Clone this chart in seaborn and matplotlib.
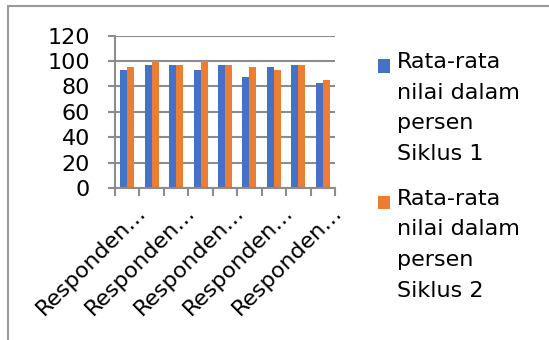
import matplotlib
matplotlib.use("Agg")
import matplotlib.pyplot as plt
import matplotlib.transforms as mtransforms
from matplotlib.lines import Line2D
from matplotlib.ticker import FixedLocator
import pandas as pd
import seaborn as sns

# Average scores per respondent (percent)
respondents = [f"Responden {i}" for i in range(1, 10)]
siklus_1 = [93, 97, 97, 93, 97, 87, 95, 97, 83]
siklus_2 = [95, 100, 97, 100, 97, 95, 93, 97, 85]
series_names = [
    "Rata-rata\nnilai dalam\npersen\nSiklus 1",
    "Rata-rata\nnilai dalam\npersen\nSiklus 2",
]
series_colors = ["#4472C4", "#ED7D31"]
y_ticks = [0, 20, 40, 60, 80, 100, 120]
x_label_positions = [0, 2, 4, 6, 8]
x_tick_labels = ["Responden…"] * 5

df = pd.DataFrame({
    "Responden": respondents * 2,
    "Nilai": siklus_1 + siklus_2,
    "Seri": [series_names[0]] * len(respondents) + [series_names[1]] * len(respondents),
})

sns.set_theme(style="white")
plt.rcParams["font.family"] = ["DejaVu Sans"]
plt.rcParams["text.color"] = "black"

W, H = 549, 340
GRAY = "#8c8c8c"
fig = plt.figure(figsize=(W / 100, H / 100), dpi=100)
ax = fig.add_axes([115 / W, 1 - 188 / H, 220 / W, (188 - 35.5) / H])

sns.barplot(data=df, x="Responden", y="Nilai", hue="Seri",
            palette=series_colors, saturation=1, width=0.57, gap=0,
            legend=False, ax=ax, linewidth=0)

ax.set_xlim(-0.5, len(respondents) - 0.5)
ax.set_ylim(0, 120)
ax.set_yticks(y_ticks)
ax.set_xlabel("")
ax.set_ylabel("")
ax.yaxis.grid(True, color=GRAY, linewidth=1.5)
ax.xaxis.grid(False)
ax.set_axisbelow(True)

for side in ("top", "right"):
    ax.spines[side].set_visible(False)
for side in ("left", "bottom"):
    ax.spines[side].set_color(GRAY)
    ax.spines[side].set_linewidth(1.5)

ax.tick_params(axis="y", which="major", length=5, width=1.5, color=GRAY,
               pad=13, labelsize=16, labelcolor="black", left=True)

# category boundary ticks below the axis, labels on every other category
ax.set_xticks(x_label_positions)
ax.set_xticklabels(x_tick_labels)
ax.xaxis.set_minor_locator(FixedLocator([i - 0.5 for i in range(len(respondents) + 1)]))
ax.tick_params(axis="x", which="major", length=0, pad=0, labelsize=16, labelcolor="black")
ax.tick_params(axis="x", which="minor", length=6, width=1.5, color=GRAY, bottom=True)

shift = mtransforms.ScaledTranslation(20 / 100, -25 / 100, fig.dpi_scale_trans)
for lab in ax.get_xticklabels():
    lab.set_rotation(45)
    lab.set_rotation_mode("anchor")
    lab.set_ha("right")
    lab.set_va("baseline")
    lab.set_transform(lab.get_transform() + shift)

# legend to the right of the plot
handles = [plt.Rectangle((0, 0), 1, 1, facecolor=c, edgecolor="none") for c in series_colors]
leg = fig.legend(handles, series_names, loc="upper left",
                 bbox_to_anchor=(378 / W, 1 - 52 / H), frameon=False,
                 fontsize=16, borderpad=0, borderaxespad=0,
                 handlelength=0.55, handleheight=0.55, handletextpad=0.3,
                 labelspacing=1.1)
for txt in leg.get_texts():
    txt.set_linespacing(1.67)
    txt.set_color("black")

# put each legend square beside the first line of its label
fig.canvas.draw()
renderer = fig.canvas.get_renderer()
for h, txt in zip(leg.legend_handles, leg.get_texts()):
    tb = txt.get_window_extent(renderer)
    hb = h.get_window_extent(renderer)
    target = tb.y1 - 14
    dy_px = target - (hb.y0 + hb.y1) / 2
    h.set_y(h.get_y() + dy_px * 72 / fig.dpi)

# outer frame lines
fig.add_artist(Line2D([8 / W, 8 / W], [0, 1 - 6 / H], color="#999999", linewidth=1.5,
                      transform=fig.transFigure))
fig.add_artist(Line2D([8 / W, 1], [1 - 6 / H, 1 - 6 / H], color="#999999", linewidth=1.5,
                      transform=fig.transFigure))

fig.savefig("out.png", dpi=100)
